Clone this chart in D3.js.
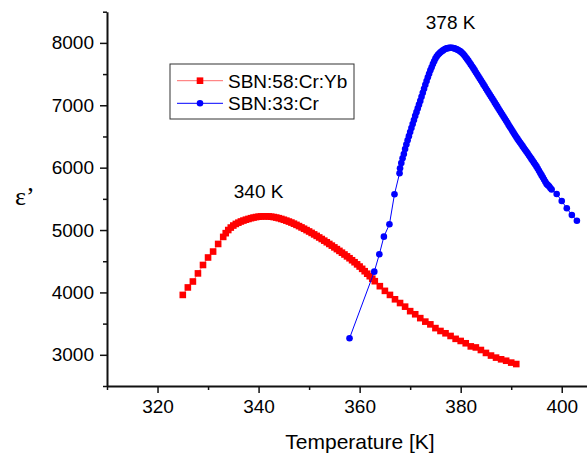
<!DOCTYPE html>
<html lang="en">
<head>
  <meta charset="utf-8">
  <title>SBN permittivity</title>
  <script src="https://d3js.org/d3.v7.min.js" charset="utf-8"></script>
  <style>
    body { margin: 0; background: #fff; }
    svg text { font-family: "Liberation Sans", Arial, sans-serif; fill: #000; }
    .axis path, .axis line { stroke: #111; }
  </style>
</head>
<body>
<script>
  // SBN:58:Cr:Yb (red squares)
  var redTemp = [325, 326, 327, 328, 329, 330, 331, 332,
    333, 333.5, 334, 334.5, 335, 335.5, 336, 336.5, 337, 337.5, 338, 338.5, 339, 339.5,
    340, 340.5, 341, 341.5, 342, 342.5, 343, 343.5, 344, 344.5, 345, 345.5, 346, 346.5,
    347, 347.5, 348, 348.5, 349, 349.5, 350, 350.5, 351, 351.5, 352, 352.5, 353, 353.5,
    354, 354.5, 355, 355.5, 356, 356.5, 357, 357.5, 358, 358.5, 359, 359.5, 360, 360.5,
    361, 361.5, 362, 362.5, 363,
    364, 365, 366, 367, 368, 369, 370, 371, 372, 373, 374, 375, 376, 377, 378, 379,
    380, 381, 382, 383, 384, 385, 386, 387, 388, 389, 390, 391];
  var redEps = [3960, 4080, 4175, 4305, 4440, 4560, 4655, 4777,
    4890, 4950, 5000, 5040, 5072, 5098, 5118, 5137, 5152, 5166, 5178, 5190, 5200, 5208,
    5214, 5218, 5220, 5220, 5218, 5214, 5208, 5200, 5190, 5178, 5165, 5151, 5136, 5120,
    5102, 5083, 5063, 5042, 5021, 4999, 4977, 4954, 4930, 4906, 4881, 4856, 4830, 4804,
    4777, 4750, 4722, 4694, 4666, 4637, 4608, 4578, 4548, 4516, 4484, 4450, 4415, 4378,
    4340, 4300, 4260, 4220, 4180,
    4100, 4025, 3960, 3890, 3830, 3772, 3700, 3650, 3588, 3532, 3488, 3428, 3382, 3345,
    3302, 3256, 3222, 3185, 3135, 3118, 3077, 3030, 2988, 2955, 2928, 2905, 2875, 2852];

  // SBN:33:Cr (blue circles)
  var blueTemp = [358, 362.9, 363.9, 364.8, 365.9, 366.9, 367.9,
    368, 368.25, 368.5, 368.75, 369, 369.25, 369.5, 369.75, 370, 370.25, 370.5, 370.75,
    371, 371.25, 371.5, 371.75, 372, 372.25, 372.5, 372.75, 373, 373.25, 373.5, 373.75,
    374, 374.25, 374.5, 374.75, 375, 375.25, 375.5, 375.75, 376, 376.25, 376.5, 376.75,
    377, 377.25, 377.5, 377.75,
    378, 378.25, 378.5, 378.75, 379, 379.25, 379.5, 379.75, 380, 380.25, 380.5, 380.75,
    381, 381.25, 381.5, 381.75, 382, 382.25, 382.5, 382.75, 383, 383.25, 383.5, 383.75,
    384, 384.25, 384.5, 384.75, 385, 385.25, 385.5, 385.75, 386, 386.25, 386.5, 386.75,
    387, 387.25, 387.5, 387.75, 388, 388.25, 388.5, 388.75, 389, 389.25, 389.5, 389.75,
    390, 390.25, 390.5, 390.75, 391, 391.25, 391.5, 391.75, 392, 392.25, 392.5, 392.75,
    393, 393.25, 393.5, 393.75, 394, 394.25, 394.5, 394.75, 395, 395.25, 395.5, 395.75,
    396, 396.25, 396.5, 396.75, 397, 397.25, 397.5, 397.75, 398,
    399, 400, 401, 402, 403];
  var blueEps = [3265, 4333, 4611, 4894, 5093, 5574, 5910,
    5990, 6075, 6150, 6220, 6300, 6370, 6440, 6505, 6570, 6635, 6700, 6765,
    6830, 6890, 6950, 7010, 7070, 7135, 7200, 7265, 7330, 7390, 7450, 7505,
    7560, 7610, 7660, 7705, 7750, 7780, 7810, 7830, 7850, 7866, 7880, 7893,
    7905, 7912, 7917, 7920,
    7922, 7921, 7918, 7912, 7905, 7896, 7885, 7873, 7860, 7841, 7820, 7796,
    7770, 7743, 7715, 7686, 7655, 7625, 7595, 7563, 7530, 7498, 7465, 7433,
    7400, 7368, 7335, 7303, 7270, 7238, 7205, 7172, 7140, 7108, 7075, 7042,
    7010, 6978, 6945, 6912, 6880, 6848, 6815, 6782, 6750, 6718, 6685, 6652,
    6620, 6588, 6555, 6522, 6490, 6461, 6432, 6404, 6375, 6345, 6315, 6287,
    6258, 6229, 6200, 6170, 6140, 6110, 6080, 6050, 6020, 5985, 5950, 5915,
    5880, 5845, 5810, 5775, 5740, 5720, 5700, 5675, 5650,
    5578, 5466, 5349, 5242, 5150];

  var xMajor = [320, 340, 360, 380, 400];
  var xMinor = [310, 330, 350, 370, 390];
  var yMajor = [3000, 4000, 5000, 6000, 7000, 8000];
  var yMinor = [2500, 3500, 4500, 5500, 6500, 7500, 8500];

  var seriesNames = ["SBN:58:Cr:Yb", "SBN:33:Cr"];
  var peakLabels = [{t: 340, e: 5510, text: "340 K"}, {t: 378, e: 8225, text: "378 K"}];

  var width = 587,
      height = 456;

  var x = d3.scaleLinear()
            .domain([310, 405])
            .range([107, 587]);

  var y = d3.scaleLinear()
            .domain([2500, 8500])
            .range([386, 11.7]);

  var svg = d3.select("body")
    .append("svg")
    .attr("width", width)
    .attr("height", height);

  // axes
  svg.append("g")
     .attr("class", "axis")
     .attr("transform", "translate(0,386)")
     .call(d3.axisBottom(x).tickValues(xMinor).tickSize(4).tickSizeOuter(0).tickFormat(""))
     .call(function(g) { g.select(".domain").remove(); })
     .selectAll("line").attr("stroke-width", 1.5);

  var xg = svg.append("g")
     .attr("class", "axis")
     .attr("transform", "translate(0,386)")
     .call(d3.axisBottom(x).tickValues(xMajor).tickSize(7).tickSizeOuter(0).tickPadding(7)
       .tickFormat(d3.format("d")));
  xg.select(".domain").attr("stroke-width", 2);
  xg.selectAll("line").attr("stroke-width", 1.5);
  xg.selectAll("text").attr("font-size", 19).attr("font-family", "Liberation Sans, Arial, sans-serif");

  svg.append("g")
     .attr("class", "axis")
     .attr("transform", "translate(107,0)")
     .call(d3.axisLeft(y).tickValues(yMinor).tickSize(4).tickSizeOuter(0).tickFormat(""))
     .call(function(g) { g.select(".domain").remove(); })
     .selectAll("line").attr("stroke-width", 1.5);

  var yg = svg.append("g")
     .attr("class", "axis")
     .attr("transform", "translate(107,0)")
     .call(d3.axisLeft(y).tickValues(yMajor).tickSize(7).tickSizeOuter(0).tickPadding(6)
       .tickFormat(d3.format("d")));
  yg.select(".domain").attr("stroke-width", 2);
  yg.selectAll("line").attr("stroke-width", 1.5);
  yg.selectAll("text").attr("font-size", 19).attr("font-family", "Liberation Sans, Arial, sans-serif");

  // titles
  svg.append("text")
     .attr("x", 360)
     .attr("y", 449)
     .attr("text-anchor", "middle")
     .attr("font-size", 21)
     .text("Temperature [K]");

  svg.append("text")
     .attr("x", 15)
     .attr("y", 205)
     .attr("font-size", 26)
     .style("font-family", "Liberation Serif, Times New Roman, serif")
     .text("\u03b5\u2019");

  // series
  var red = redTemp.map(function(t, i) { return [t, redEps[i]]; });
  var blue = blueTemp.map(function(t, i) { return [t, blueEps[i]]; });

  var line = d3.line()
    .x(function(d) { return x(d[0]); })
    .y(function(d) { return y(d[1]); });

  svg.append("path")
     .datum(red)
     .attr("fill", "none")
     .attr("stroke", "#ff6a6a")
     .attr("stroke-width", 1)
     .attr("d", line);

  svg.append("g")
     .selectAll("rect")
     .data(red)
     .enter()
     .append("rect")
     .attr("x", function(d) { return x(d[0]) - 3.3; })
     .attr("y", function(d) { return y(d[1]) - 3.3; })
     .attr("width", 6.6)
     .attr("height", 6.6)
     .attr("fill", "#ff0000");

  svg.append("path")
     .datum(blue)
     .attr("fill", "none")
     .attr("stroke", "#0000ff")
     .attr("stroke-width", 1)
     .attr("d", line);

  svg.append("g")
     .selectAll("circle")
     .data(blue)
     .enter()
     .append("circle")
     .attr("cx", function(d) { return x(d[0]); })
     .attr("cy", function(d) { return y(d[1]); })
     .attr("r", 3.3)
     .attr("fill", "#0000ff");

  // peak labels
  svg.selectAll(".peak")
     .data(peakLabels)
     .enter()
     .append("text")
     .attr("class", "peak")
     .attr("x", function(d) { return x(d.t); })
     .attr("y", function(d) { return y(d.e); })
     .attr("text-anchor", "middle")
     .attr("font-size", 19)
     .text(function(d) { return d.text; });

  // legend
  var lg = svg.append("g").attr("transform", "translate(170,64)");
  lg.append("rect")
    .attr("width", 184)
    .attr("height", 55)
    .attr("fill", "#fff")
    .attr("stroke", "#333")
    .attr("stroke-width", 1);

  var rows = lg.selectAll(".row")
    .data(seriesNames)
    .enter()
    .append("g")
    .attr("class", "row")
    .attr("transform", function(d, i) { return "translate(0," + (16.7 + i * 22.6) + ")"; });

  rows.append("line")
    .attr("x1", 7).attr("x2", 53)
    .attr("stroke", function(d, i) { return i ? "#0000ff" : "#ff6a6a"; })
    .attr("stroke-width", 1);

  rows.filter(function(d, i) { return i === 0; })
    .append("rect")
    .attr("x", 30 - 3.3).attr("y", -3.3)
    .attr("width", 6.6).attr("height", 6.6)
    .attr("fill", "#ff0000");

  rows.filter(function(d, i) { return i === 1; })
    .append("circle")
    .attr("cx", 30).attr("r", 3.3)
    .attr("fill", "#0000ff");

  rows.append("text")
    .attr("x", 58)
    .attr("y", 7)
    .attr("font-size", 19)
    .text(function(d) { return d; });
</script>
</body>
</html>
